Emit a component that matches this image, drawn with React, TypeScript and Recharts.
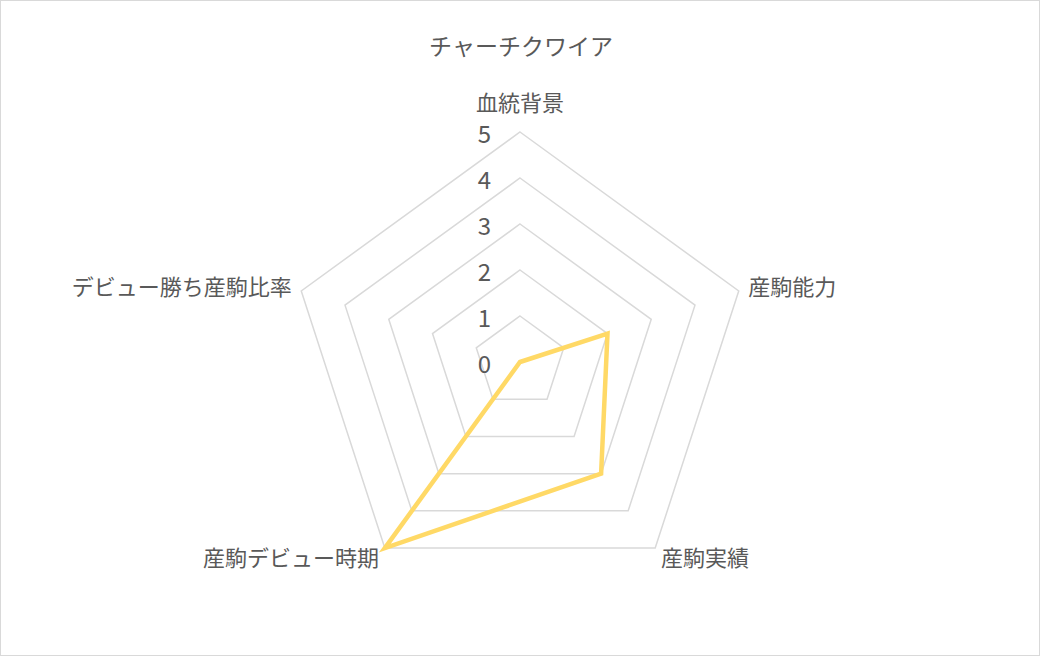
import { RadarChart, PolarGrid, PolarAngleAxis, PolarRadiusAxis, Radar } from "recharts"

const categories = ["血統背景", "産駒能力", "産駒実績", "産駒デビュー時期", "デビュー勝ち産駒比率"]
const scores = [0, 2, 3, 5, 0]
const radiusTicks = [0, 1, 2, 3, 4, 5]

const data = categories.map((name, i) => ({ name, value: scores[i] }))

const CX = 520
const CY = 362
const R = 230
const FONT = "'Noto Sans CJK JP', 'Noto Sans', sans-serif"
const TEXT = "#595959"

function AngleTick(props: any) {
  const { payload } = props
  const angle = payload.coordinate
  const rad = (-angle * Math.PI) / 180
  const cos = Math.cos(rad)
  const sin = Math.sin(rad)
  const x = CX + (R + 10) * cos
  const y = CY + (R + 10) * sin
  let anchor = "middle"
  if (cos > 0.1) anchor = "start"
  else if (cos < -0.1) anchor = "end"
  let dy = -3
  if (sin < -0.9) dy = -21
  else if (sin > 0.5) dy = 0
  return (
    <text
      x={x}
      y={y + dy}
      textAnchor={anchor}
      dominantBaseline="central"
      fill={TEXT}
      fontSize={22}
      fontFamily={FONT}
    >
      {payload.value}
    </text>
  )
}

function RadiusTick(props: any) {
  const { x, y, payload } = props
  return (
    <text
      x={x - 29}
      y={y}
      textAnchor="end"
      dominantBaseline="central"
      fill={TEXT}
      fontSize={24}
      fontFamily={FONT}
    >
      {payload.value}
    </text>
  )
}

export default function App() {
  return (
    <div
      style={{
        position: "absolute",
        left: 0,
        top: 0,
        width: 1040,
        height: 656,
        border: "1px solid #d9d9d9",
        boxSizing: "border-box",
        background: "#fff",
      }}
    >
      <div
        style={{
          position: "absolute",
          left: 0,
          top: 29,
          width: 1040,
          textAlign: "center",
          fontFamily: FONT,
          fontSize: 23,
          color: TEXT,
          lineHeight: "30px",
        }}
      >
        チャーチクワイア
      </div>
      <div style={{ position: "absolute", left: -1, top: -1 }}>
        <RadarChart width={1040} height={656} data={data} cx={CX} cy={CY} outerRadius={R}>
          <PolarGrid gridType="polygon" radialLines={false} stroke="#d9d9d9" strokeWidth={1.5} />
          <PolarAngleAxis dataKey="name" tick={<AngleTick />} tickLine={false} axisLine={false} />
          <PolarRadiusAxis
            angle={90}
            domain={[0, 5]}
            ticks={radiusTicks as any}
            tickCount={6}
            tick={<RadiusTick />}
            axisLine={false}
            tickLine={false}
          />
          <Radar
            dataKey="value"
            stroke="#ffd966"
            strokeWidth={4.5}
            strokeLinejoin="miter"
            fill="none"
            fillOpacity={0}
            dot={false}
            isAnimationActive={false}
          />
        </RadarChart>
      </div>
    </div>
  )
}
